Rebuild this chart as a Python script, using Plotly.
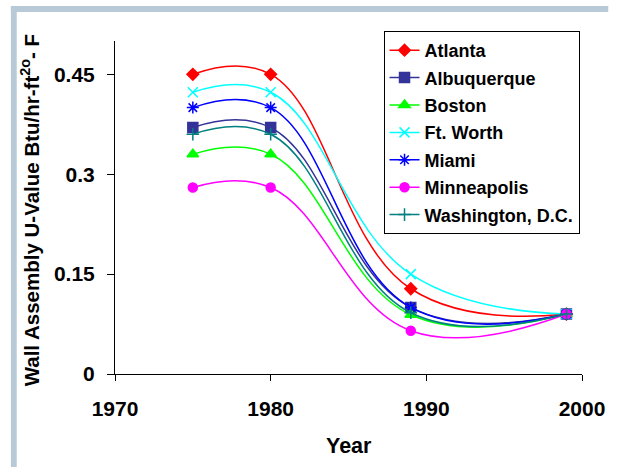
import plotly.graph_objects as go

years = [1975, 1980, 1989, 1999]
cities = ["Atlanta", "Albuquerque", "Boston", "Ft. Worth", "Miami", "Minneapolis", "Washington, D.C."]
atlanta = [0.45, 0.45, 0.128, 0.09]
albuquerque = [0.37, 0.37, 0.10, 0.09]
boston = [0.33, 0.33, 0.089, 0.09]
ft_worth = [0.423, 0.423, 0.15, 0.09]
miami = [0.40, 0.40, 0.10, 0.09]
minneapolis = [0.28, 0.28, 0.065, 0.09]
washington = [0.36, 0.36, 0.092, 0.09]
series = [atlanta, albuquerque, boston, ft_worth, miami, minneapolis, washington]

colors = ["#FF0000", "#333399", "#00FF00", "#00FFFF", "#0000FF", "#FF00FF", "#008080"]
symbols = ["diamond", "square", "triangle-up", "x-thin-open", "asterisk-open", "circle", "cross-thin-open"]
msizes = [9, 10, 10, 10, 10, 9, 9]

W, H = 617, 467
L, R, T, B = 115, 22, 41, 93
pw, ph = W - L - R, H - T - B

def px(x):
    return (x - L) / pw

def py(y):
    return (H - B - y) / ph

ARIAL = "Arial, Liberation Sans, sans-serif"

fig = go.Figure()
for i, (name, vals) in enumerate(zip(cities, series)):
    fig.add_trace(go.Scatter(
        x=years, y=vals, name=name, mode="lines+markers",
        line=dict(color=colors[i], width=1.5, shape="spline", smoothing=1.2),
        marker=dict(symbol=symbols[i], size=msizes[i], color=colors[i],
                    line=dict(color=colors[i], width=1.5)),
        legendgroup=name,
    ))

frame = "#B8CAD7"
fig.update_layout(
    width=W, height=H,
    margin=dict(l=L, r=R, t=T, b=B),
    paper_bgcolor="white", plot_bgcolor="white",
    font=dict(family=ARIAL, color="black"),
    showlegend=True,
    legend=dict(
        x=px(391), y=py(31), xanchor="left", yanchor="top",
        bordercolor="black", borderwidth=1, bgcolor="white",
        font=dict(family=ARIAL, size=18, color="black", weight="bold"),
        tracegroupgap=1, itemwidth=30,
    ),
    xaxis=dict(
        range=[1970, 2000], tickvals=[1970, 1980, 1990, 2000],
        showgrid=False, zeroline=False, showline=True, linecolor="black", linewidth=1,
        ticks="outside", ticklen=6, tickcolor="black",
        tickfont=dict(family=ARIAL, size=21, weight="bold"),
        ticklabeloverflow="allow", ticklabelstandoff=10,
    ),
    yaxis=dict(
        range=[0, 0.5], tickvals=[0, 0.15, 0.3, 0.45], ticktext=["0", "0.15", "0.3", "0.45"],
        showgrid=False, zeroline=False, showline=True, linecolor="black", linewidth=1,
        ticks="outside", ticklen=7, tickcolor="black",
        tickfont=dict(family=ARIAL, size=21, weight="bold"),
        ticklabelstandoff=8,
    ),
    shapes=[
        dict(type="rect", xref="paper", yref="paper", x0=px(8), x1=px(W + 5), y0=py(12), y1=py(6),
             fillcolor=frame, line=dict(width=0), layer="below"),
        dict(type="rect", xref="paper", yref="paper", x0=px(8), x1=px(14), y0=py(H + 5), y1=py(6),
             fillcolor=frame, line=dict(width=0), layer="below"),
    ],
    annotations=[
        dict(text="<b>Year</b>", xref="paper", yref="paper", x=px(355), y=py(446),
             showarrow=False, font=dict(family=ARIAL, size=21.5), xanchor="center", yanchor="middle"),
        dict(text="<b>Wall Assembly U-Value Btu/hr-ft<sup>2</sup><sup>o</sup>- F</b>", xref="paper", yref="paper",
             x=px(28), y=py(210), textangle=-90,
             showarrow=False, font=dict(family=ARIAL, size=20.5), xanchor="center", yanchor="middle"),
    ],
)

fig.write_html("out.html")
